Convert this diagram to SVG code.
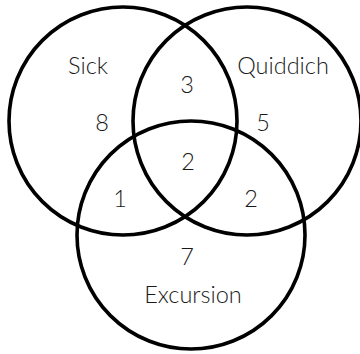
<svg xmlns="http://www.w3.org/2000/svg" width="360" height="354" viewBox="0 0 360 354">
<style>
.c{fill:none;stroke:#000;stroke-width:3.6}
text{font-family:Lato,"Open Sans","Liberation Sans",sans-serif;font-size:23.5px;font-weight:300;fill:#1a1a1a;text-anchor:middle}
</style>
<rect width="360" height="354" fill="#fff"/>
<g id="sick"><circle class="c" cx="123" cy="121" r="114"/><text x="88" y="74">Sick</text></g>
<g id="quiddich"><circle class="c" cx="247" cy="121" r="114"/><text x="283" y="74">Quiddich</text></g>
<g id="excursion"><circle class="c" cx="191" cy="235" r="114"/><text x="193" y="303">Excursion</text></g>
<g id="counts">
<text x="102" y="131">8</text>
<text x="187" y="93">3</text>
<text x="263" y="131">5</text>
<text x="188" y="170">2</text>
<text x="120" y="207">1</text>
<text x="251" y="207">2</text>
<text x="187" y="265">7</text>
</g>
</svg>
